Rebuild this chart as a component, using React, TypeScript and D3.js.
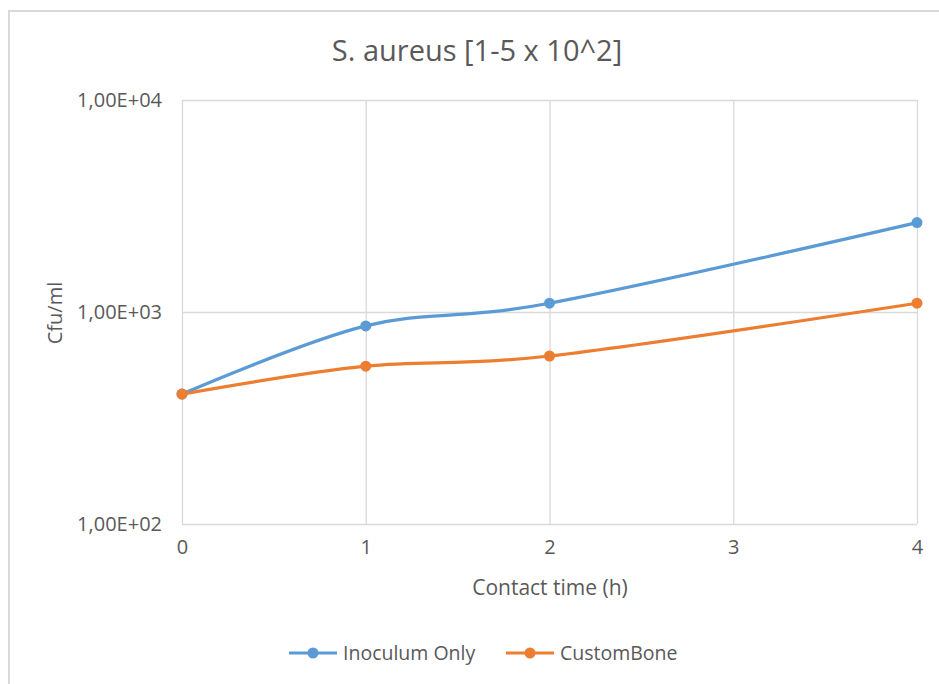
import { useEffect, useRef } from 'react';
import * as d3 from 'd3';

// contact time (h)
const hours = [0, 1, 2, 4];
const inoculumOnly = [410, 860, 1100, 2640];
const customBone = [410, 555, 620, 1100];
const xTicks = [0, 1, 2, 3, 4];
const yTicks = [100, 1000, 10000];

const seriesNames = ['Inoculum Only', 'CustomBone'];
const seriesColors = ['#5B9BD5', '#ED7D31'];

const FONT = '"Open Sans", "Noto Sans", sans-serif';

export default function App() {
    const svgRef = useRef<SVGSVGElement>(null);

    useEffect(() => {
        if (!svgRef.current) return;
        const svg = d3.select(svgRef.current);
        svg.selectAll('*').remove();

        const width = 939;
        const height = 684;
        const margin = { top: 100, right: 22, bottom: 160, left: 182 };
        const innerWidth = width - margin.left - margin.right;
        const innerHeight = height - margin.top - margin.bottom;

        // chart frame
        svg.append('rect')
            .attr('x', 9).attr('y', 11)
            .attr('width', width).attr('height', height)
            .attr('fill', '#fff')
            .attr('stroke', '#d9d9d9')
            .attr('stroke-width', 2);

        const x = d3.scaleLinear().domain([0, 4]).range([0, innerWidth]);
        const y = d3.scaleLog().domain([100, 10000]).range([innerHeight, 0]);

        const g = svg.append('g')
            .attr('transform', `translate(${margin.left},${margin.top})`);

        // Grid lines
        g.append('g')
            .call(d3.axisLeft(y).tickValues(yTicks).tickSize(-innerWidth).tickFormat(() => ''))
            .call(s => s.select('.domain').remove())
            .call(s => s.selectAll('.tick line').attr('stroke', '#d9d9d9').attr('stroke-width', 1.3));

        g.append('g')
            .attr('transform', `translate(0,${innerHeight})`)
            .call(d3.axisBottom(x).tickValues(xTicks).tickSize(-innerHeight).tickFormat(() => ''))
            .call(s => s.select('.domain').remove())
            .call(s => s.selectAll('.tick line').attr('stroke', '#d9d9d9').attr('stroke-width', 1.3));

        // Y tick labels
        g.append('g')
            .call(d3.axisLeft(y).tickValues(yTicks).tickSize(0).tickPadding(20)
                .tickFormat(d => (+d).toExponential(2).replace('.', ',').replace(/e\+(\d)$/, 'E+0$1')))
            .call(s => s.select('.domain').remove())
            .call(s => s.selectAll('.tick text').attr('fill', '#595959')
                .attr('font-family', FONT).attr('font-size', '20px'));

        // X tick labels
        g.append('g')
            .attr('transform', `translate(0,${innerHeight})`)
            .call(d3.axisBottom(x).tickValues(xTicks).tickSize(0).tickPadding(16).tickFormat(d3.format('d')))
            .call(s => s.select('.domain').remove())
            .call(s => s.selectAll('.tick text').attr('fill', '#595959')
                .attr('font-family', FONT).attr('font-size', '20px'));

        // Lines + markers
        const seriesData = [inoculumOnly, customBone];
        const line = d3.line<number>()
            .x((_, i) => x(hours[i]))
            .y(d => y(d))
            .curve(d3.curveCatmullRom.alpha(0));

        seriesData.forEach((vals, si) => {
            g.append('path')
                .datum(vals)
                .attr('fill', 'none')
                .attr('stroke', seriesColors[si])
                .attr('stroke-width', 3.2)
                .attr('stroke-linejoin', 'round')
                .attr('d', line);
        });
        seriesData.forEach((vals, si) => {
            g.selectAll(`.pt${si}`)
                .data(vals)
                .enter()
                .append('circle')
                .attr('cx', (_, i) => x(hours[i]))
                .attr('cy', d => y(d))
                .attr('r', 5.5)
                .attr('fill', seriesColors[si]);
        });

        // Title
        svg.append('text')
            .attr('x', 477).attr('y', 61)
            .attr('text-anchor', 'middle')
            .attr('fill', '#595959')
            .attr('font-family', FONT)
            .attr('font-size', '29px')
            .text('S. aureus [1-5 x 10^2]');

        // Axis titles
        svg.append('text')
            .attr('transform', 'translate(62,313) rotate(-90)')
            .attr('text-anchor', 'middle')
            .attr('fill', '#595959')
            .attr('font-family', FONT)
            .attr('font-size', '20px')
            .text('Cfu/ml');

        svg.append('text')
            .attr('x', 550).attr('y', 595)
            .attr('text-anchor', 'middle')
            .attr('fill', '#595959')
            .attr('font-family', FONT)
            .attr('font-size', '21px')
            .text('Contact time (h)');

        // Legend
        const legendX = [289, 506];
        seriesNames.forEach((name, i) => {
            const lg = svg.append('g').attr('transform', `translate(${legendX[i]},653)`);
            lg.append('line')
                .attr('x1', 0).attr('x2', 48)
                .attr('stroke', seriesColors[i]).attr('stroke-width', 3.2);
            lg.append('circle').attr('cx', 24).attr('r', 5.5).attr('fill', seriesColors[i]);
            lg.append('text')
                .attr('x', 54).attr('y', 7)
                .attr('fill', '#595959')
                .attr('font-family', FONT)
                .attr('font-size', '19.5px')
                .text(name);
        });
    }, []);

    return (
        <div>
            <style>{'body{margin:0}'}</style>
            <svg ref={svgRef} width={939} height={684} style={{ display: 'block' }} />
        </div>
    );
}
